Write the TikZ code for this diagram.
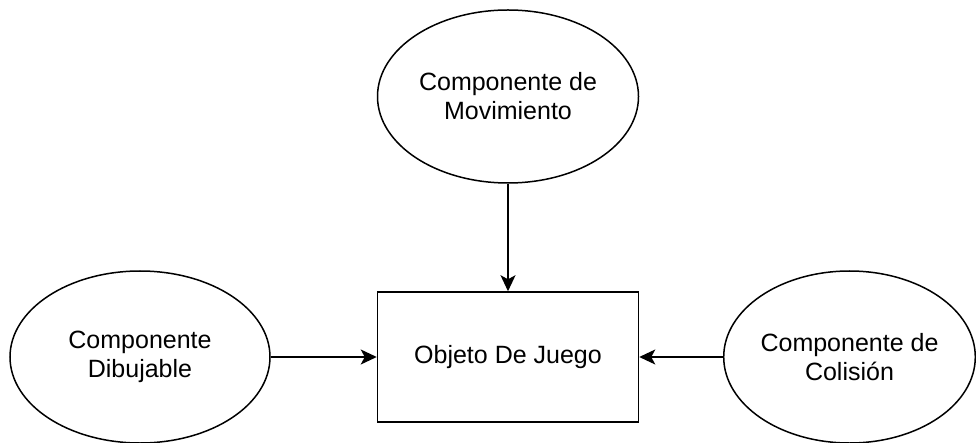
\documentclass[tikz,border=0pt]{standalone}
\usepackage{fontspec}
\setmainfont{Liberation Sans}
\usetikzlibrary{shapes.geometric,arrows.meta}
\begin{document}
\begin{tikzpicture}[x=1pt,y=-1pt,
  comp/.style={ellipse,draw,line width=1.5pt,inner sep=0pt,align=center,
    font=\fontsize{25}{29}\selectfont},
  obj/.style={rectangle,draw,line width=1.5pt,inner sep=0pt,align=center,
    font=\fontsize{25}{29}\selectfont},
  conn/.style={line width=1.5pt,-{Stealth[length=16pt,width=15pt,inset=4pt]}}]
\useasboundingbox (0,0) rectangle (976,443);
\node[comp,minimum width=261pt,minimum height=173pt] (mov) at (508,96.5) {Componente de\\Movimiento};
\node[comp,minimum width=260pt,minimum height=172pt] (dib) at (140,357) {Componente\\Dibujable};
\node[comp,minimum width=251pt,minimum height=172pt] (col) at (849.5,357) {Componente de\\Colisión};
\node[obj,minimum width=261pt,minimum height=130pt] (obj) at (508,357) {Objeto De Juego};
\draw[conn] (mov.south) -- (obj.north);
\draw[conn] (dib.east) -- (obj.west);
\draw[conn] (col.west) -- (obj.east);
\end{tikzpicture}
\end{document}
